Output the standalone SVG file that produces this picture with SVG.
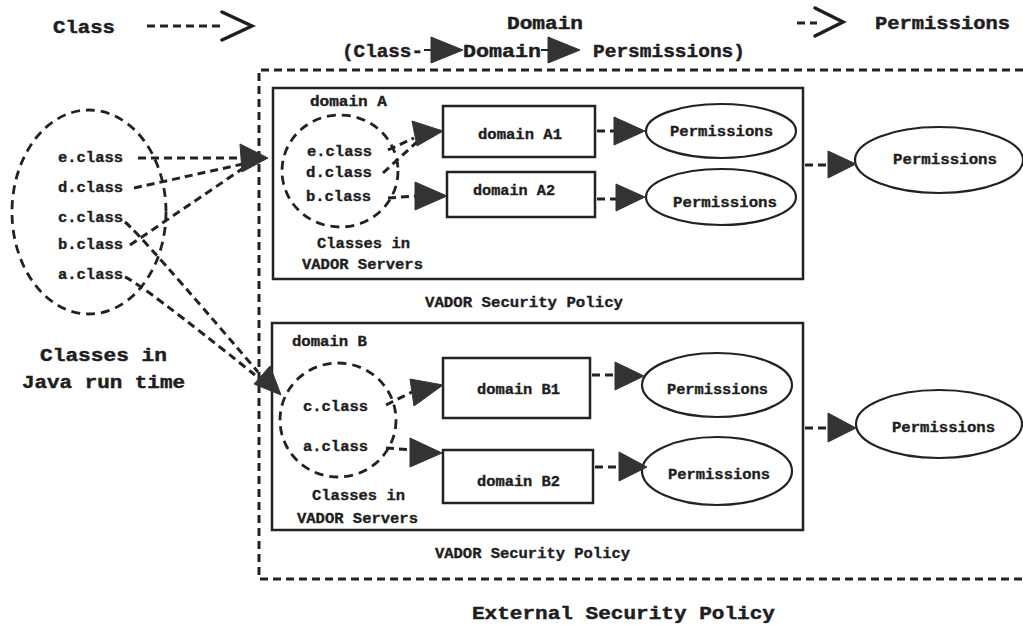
<svg xmlns="http://www.w3.org/2000/svg" width="1023" height="625" viewBox="0 0 1023 625">
  <style>
    .t { font-family: "Liberation Mono", "Courier New", monospace; font-weight: bold; fill: #1e1e1e; stroke: #1e1e1e; stroke-width: 0.35; }
    .s { font-size: 14px; }
    .m { font-size: 15px; }
    .l { font-size: 18px; stroke-width: 0.45; }
    .box { fill: #fff; stroke: #222; stroke-width: 2.5; }
    .oval { fill: #fff; stroke: #222; stroke-width: 2.2; }
    .dash { fill: none; stroke: #222; stroke-width: 3; stroke-dasharray: 8 5; }
    .dring { fill: none; stroke: #222; stroke-width: 2.8; stroke-dasharray: 9 6; }
    .head { fill: #333; stroke: #333; stroke-width: 1; stroke-linejoin: round; }
    .chev { fill: none; stroke: #1e1e1e; stroke-width: 3.5; stroke-linecap: round; stroke-linejoin: miter; }
  </style>

  <rect width="1023" height="625" fill="#fff"/>

  <!-- legend row -->
  <g id="legend">
    <text class="t l" x="53" y="33" textLength="62" lengthAdjust="spacingAndGlyphs">Class</text>
    <path class="dash" d="M147,26 H224"/>
    <polyline class="chev" points="222,12 252,26 222,40"/>
    <text class="t l" x="507" y="29" textLength="76" lengthAdjust="spacingAndGlyphs">Domain</text>
    <path class="dash" d="M797,23 H817" stroke-dasharray="4 4 10 2"/>
    <polyline class="chev" points="815,8 843,22 815,36"/>
    <text class="t l" x="875" y="29" textLength="135" lengthAdjust="spacingAndGlyphs">Permissions</text>
    <text class="t l" x="342" y="57" textLength="81" lengthAdjust="spacingAndGlyphs">(Class-</text>
    <path d="M424,50 H432" stroke="#222" stroke-width="2"/>
    <polygon class="head" points="431,37 463,50 431,63"/>
    <text class="t l" x="463" y="57" textLength="78" lengthAdjust="spacingAndGlyphs">Domain</text>
    <path d="M541,50 H549" stroke="#222" stroke-width="2"/>
    <polygon class="head" points="548,37 580,50 548,63"/>
    <text class="t l" x="593" y="57" textLength="152" lengthAdjust="spacingAndGlyphs">Persmissions)</text>
  </g>

  <!-- external policy frame -->
  <g id="external-policy">
    <path class="dash" d="M1023,70 H259 V579 H1023"/>
    <text class="t l" x="472" y="619" textLength="303" lengthAdjust="spacingAndGlyphs">External Security Policy</text>
  </g>

  <!-- runtime classes -->
  <g id="java-runtime">
    <ellipse class="dring" cx="89" cy="212" rx="77" ry="102"/>
    <text class="t s" x="58" y="162" textLength="65" lengthAdjust="spacingAndGlyphs">e.class</text>
    <text class="t s" x="58" y="192" textLength="65" lengthAdjust="spacingAndGlyphs">d.class</text>
    <text class="t s" x="58" y="222" textLength="65" lengthAdjust="spacingAndGlyphs">c.class</text>
    <text class="t s" x="58" y="249" textLength="65" lengthAdjust="spacingAndGlyphs">b.class</text>
    <text class="t s" x="58" y="279" textLength="65" lengthAdjust="spacingAndGlyphs">a.class</text>
    <text class="t l" x="40" y="361" textLength="127" lengthAdjust="spacingAndGlyphs">Classes in</text>
    <text class="t l" x="22" y="388" textLength="163" lengthAdjust="spacingAndGlyphs">Java run time</text>
  </g>

  <!-- domain A -->
  <g id="domain-a">
    <rect class="box" x="273" y="88" width="530" height="191"/>
    <text class="t s" x="310" y="106" textLength="77" lengthAdjust="spacingAndGlyphs">domain A</text>
    <ellipse class="dring" cx="340" cy="171" rx="58" ry="56"/>
    <text class="t s" x="307" y="156" textLength="65" lengthAdjust="spacingAndGlyphs">e.class</text>
    <text class="t s" x="306" y="177" textLength="66" lengthAdjust="spacingAndGlyphs">d.class</text>
    <text class="t s" x="306" y="201" textLength="65" lengthAdjust="spacingAndGlyphs">b.class</text>
    <text class="t m" x="317" y="248" textLength="93" lengthAdjust="spacingAndGlyphs">Classes in</text>
    <text class="t m" x="302" y="269" textLength="121" lengthAdjust="spacingAndGlyphs">VADOR Servers</text>
    <text class="t m" x="425" y="307" textLength="198" lengthAdjust="spacingAndGlyphs">VADOR Security Policy</text>
  </g>
  <g id="domain-a1">
    <rect class="box" x="443" y="106" width="152" height="51"/>
    <text class="t s" x="478" y="139" textLength="84" lengthAdjust="spacingAndGlyphs">domain A1</text>
  </g>
  <g id="domain-a2">
    <rect class="box" x="447" y="172" width="148" height="45"/>
    <text class="t s" x="473" y="195" textLength="82" lengthAdjust="spacingAndGlyphs">domain A2</text>
  </g>
  <g id="perm-a1">
    <ellipse class="oval" cx="721" cy="131" rx="75" ry="27"/>
    <text class="t s" x="670" y="136" textLength="103" lengthAdjust="spacingAndGlyphs">Permissions</text>
  </g>
  <g id="perm-a2">
    <ellipse class="oval" cx="721" cy="197" rx="75" ry="28"/>
    <text class="t s" x="673" y="207" textLength="104" lengthAdjust="spacingAndGlyphs">Permissions</text>
  </g>
  <g id="perm-a">
    <ellipse class="oval" cx="939" cy="160" rx="84" ry="33"/>
    <text class="t s" x="893" y="164" textLength="104" lengthAdjust="spacingAndGlyphs">Permissions</text>
  </g>

  <!-- domain B -->
  <g id="domain-b">
    <rect class="box" x="272" y="323" width="531" height="207"/>
    <text class="t s" x="292" y="346" textLength="75" lengthAdjust="spacingAndGlyphs">domain B</text>
    <ellipse class="dring" cx="338" cy="420" rx="58" ry="57"/>
    <text class="t s" x="303" y="411" textLength="65" lengthAdjust="spacingAndGlyphs">c.class</text>
    <text class="t s" x="303" y="451" textLength="65" lengthAdjust="spacingAndGlyphs">a.class</text>
    <text class="t m" x="312" y="500" textLength="93" lengthAdjust="spacingAndGlyphs">Classes in</text>
    <text class="t m" x="297" y="523" textLength="121" lengthAdjust="spacingAndGlyphs">VADOR Servers</text>
    <text class="t m" x="435" y="558" textLength="195" lengthAdjust="spacingAndGlyphs">VADOR Security Policy</text>
  </g>
  <g id="domain-b1">
    <rect class="box" x="443" y="358" width="147" height="60"/>
    <text class="t s" x="477" y="394" textLength="83" lengthAdjust="spacingAndGlyphs">domain B1</text>
  </g>
  <g id="domain-b2">
    <rect class="box" x="443" y="450" width="150" height="53"/>
    <text class="t s" x="477" y="486" textLength="83" lengthAdjust="spacingAndGlyphs">domain B2</text>
  </g>
  <g id="perm-b1">
    <ellipse class="oval" cx="717" cy="385" rx="75" ry="32"/>
    <text class="t s" x="667" y="394" textLength="101" lengthAdjust="spacingAndGlyphs">Permissions</text>
  </g>
  <g id="perm-b2">
    <ellipse class="oval" cx="717" cy="471" rx="75" ry="34"/>
    <text class="t s" x="668" y="479" textLength="102" lengthAdjust="spacingAndGlyphs">Permissions</text>
  </g>
  <g id="perm-b">
    <ellipse class="oval" cx="939" cy="424" rx="83" ry="34"/>
    <text class="t s" x="892" y="432" textLength="103" lengthAdjust="spacingAndGlyphs">Permissions</text>
  </g>

  <!-- connectors -->
  <g id="connectors">
    <!-- runtime classes to domain A -->
    <path class="dash" d="M138,158 H242"/>
    <path class="dash" d="M134,188 L243,164"/>
    <path class="dash" d="M130,245 L245,167"/>
    <polygon class="head" points="240,144 268,158 242,172"/>
    <!-- runtime classes to domain B -->
    <path class="dash" d="M125,222 Q140,234 258,372"/>
    <path class="dash" d="M125,277 Q140,283 255,375"/>
    <polygon class="head" points="254,384 270,366 281,395"/>

    <!-- inside domain A -->
    <path class="dash" d="M388,150 L414,138"/>
    <path class="dash" d="M383,173 L418,141"/>
    <polygon class="head" points="412,121 443,131 417,146"/>
    <path class="dash" d="M388,198 L416,196"/>
    <polygon class="head" points="415,182 447,196 415,210"/>
    <path class="dash" d="M597,131 H615"/>
    <polygon class="head" points="614,117 645,131 614,145"/>
    <path class="dash" d="M597,199 H617"/>
    <polygon class="head" points="616,184 645,197 616,211"/>
    <path class="dash" d="M805,165 H829"/>
    <polygon class="head" points="828,151 856,164 828,178"/>

    <!-- inside domain B -->
    <path class="dash" d="M386,405 L412,392"/>
    <polygon class="head" points="410,379 443,385 414,406"/>
    <path class="dash" d="M386,448 L412,450"/>
    <polygon class="head" points="410,438 442,453 410,467"/>
    <path class="dash" d="M592,375 H615"/>
    <polygon class="head" points="615,362 644,376 615,390"/>
    <path class="dash" d="M595,467 H619"/>
    <polygon class="head" points="619,452 647,467 619,481"/>
    <path class="dash" d="M805,428 H829"/>
    <polygon class="head" points="828,413 856,428 828,442"/>
  </g>
</svg>
